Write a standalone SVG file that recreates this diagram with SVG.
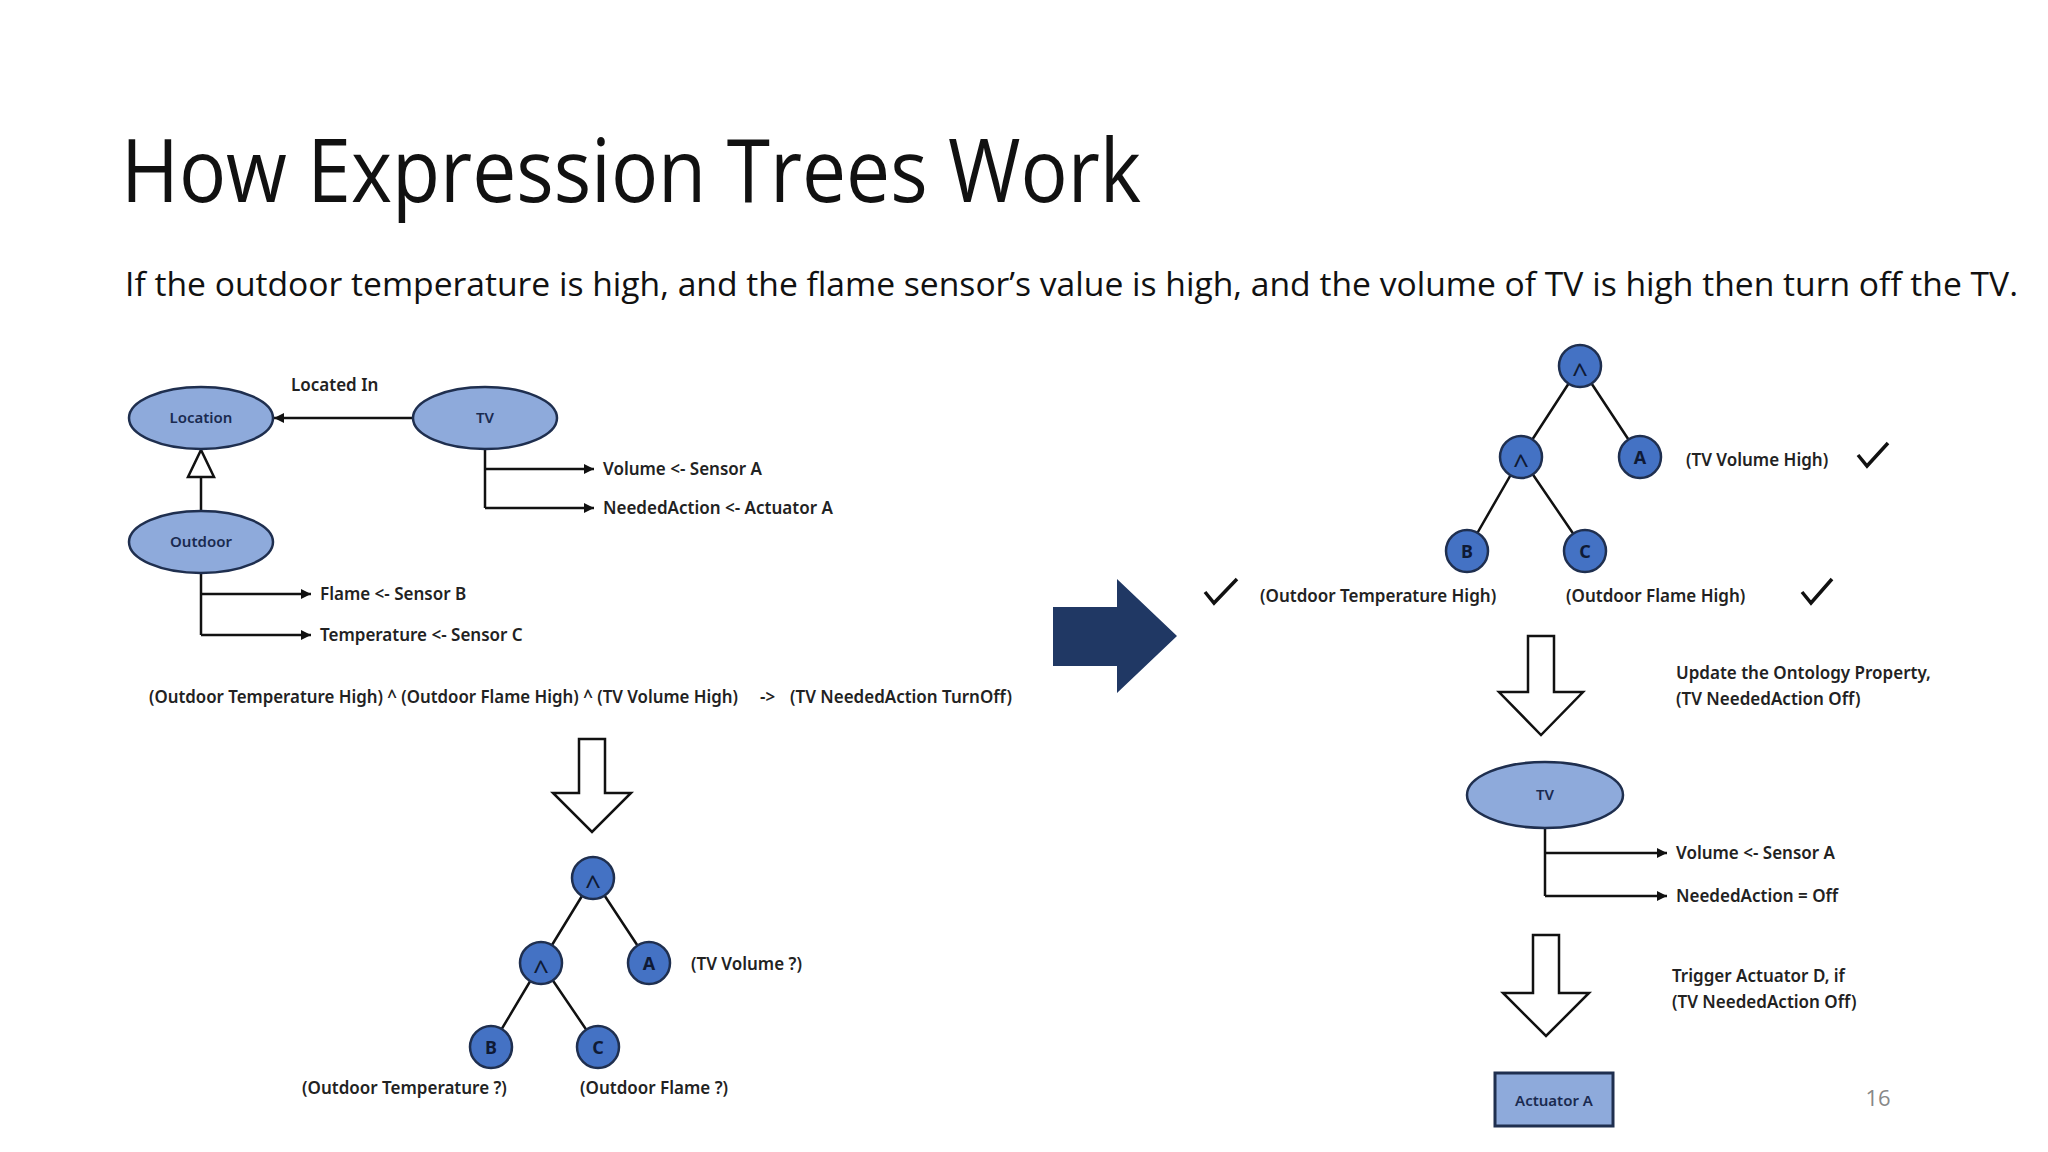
<svg xmlns="http://www.w3.org/2000/svg" width="2048" height="1152" viewBox="0 0 2048 1152">
<defs>
<marker id="ah" viewBox="0 0 10 10" refX="10" refY="5" markerWidth="4" markerHeight="4" orient="auto"><path d="M0,0L10,5L0,10z" fill="#111"/></marker>
<style>
.lbl{font-family:"Noto Sans","Liberation Sans",sans-serif;font-size:17px;font-weight:600;fill:#222}
.nd{font-family:"Noto Sans","Liberation Sans",sans-serif;font-size:15px;font-weight:600;fill:#1a2a50;text-anchor:middle}
.cl{font-family:"Noto Sans","Liberation Sans",sans-serif;font-size:18px;font-weight:700;fill:#0f1a35;text-anchor:middle}
.cx{font-family:"Noto Sans","Liberation Sans",sans-serif;font-size:28px;font-weight:400;fill:#0f1a35;text-anchor:middle}
.ell{fill:#8eaadb;stroke:#1f2f4f;stroke-width:2.5}
.cir{fill:#4472c4;stroke:#1f2f4f;stroke-width:2.5}
.ln{stroke:#111;stroke-width:2.5;fill:none}
.hol{fill:#fff;stroke:#111;stroke-width:2.5}
.chk{fill:none;stroke:#111;stroke-width:3.5}
</style>
</defs>
<rect width="2048" height="1152" fill="#fff"/>
<text x="121" y="202" font-family="Open Sans,Liberation Sans,sans-serif" font-size="88" fill="#111" textLength="1020" lengthAdjust="spacingAndGlyphs">How Expression Trees Work</text>
<text x="125" y="296" font-family="Open Sans,Liberation Sans,sans-serif" font-size="33" fill="#111" textLength="1893" lengthAdjust="spacingAndGlyphs">If the outdoor temperature is high, and the flame sensor’s value is high, and the volume of TV is high then turn off the TV.</text>

<g id="connectors">
<line class="ln" x1="413" y1="418" x2="274" y2="418" marker-end="url(#ah)"/>
<line class="ln" x1="201" y1="511" x2="201" y2="477"/>
<path class="hol" d="M188,477L214,477L201,450z"/>
<path class="ln" d="M485,449V508"/>
<line class="ln" x1="485" y1="469" x2="594" y2="469" marker-end="url(#ah)"/>
<line class="ln" x1="485" y1="508" x2="594" y2="508" marker-end="url(#ah)"/>
<path class="ln" d="M201,573V635"/>
<line class="ln" x1="201" y1="594" x2="311" y2="594" marker-end="url(#ah)"/>
<line class="ln" x1="201" y1="635" x2="311" y2="635" marker-end="url(#ah)"/>
<path class="hol" d="M579,739H605V793H631L592,832L553,793H579z"/>
<path class="ln" d="M593,878L541,963M593,878L649,963M541,963L491,1047M541,963L598,1047"/>
<path d="M1053,607H1117V579L1177,636L1117,693V666H1053z" fill="#203864"/>
<path class="ln" d="M1580,366L1521,457M1580,366L1640,457M1521,457L1467,551M1521,457L1585,551"/>
<path class="hol" d="M1528,636H1554V692H1583L1541,735L1499,692H1528z"/>
<path class="ln" d="M1545,828V896"/>
<line class="ln" x1="1545" y1="853" x2="1667" y2="853" marker-end="url(#ah)"/>
<line class="ln" x1="1545" y1="896" x2="1667" y2="896" marker-end="url(#ah)"/>
<path class="hol" d="M1533,935H1559V993H1589L1546,1036L1503,993H1533z"/>
</g>

<g id="location"><ellipse class="ell" cx="201" cy="418" rx="72" ry="31"/><text class="nd" x="201" y="423">Location</text></g>
<g id="tv"><ellipse class="ell" cx="485" cy="418" rx="72" ry="31"/><text class="nd" x="485" y="423">TV</text></g>
<g id="outdoor"><ellipse class="ell" cx="201" cy="542" rx="72" ry="31"/><text class="nd" x="201" y="547">Outdoor</text></g>
<text class="lbl" x="291" y="391">Located In</text>
<text class="lbl" x="603" y="475">Volume &lt;- Sensor A</text>
<text class="lbl" x="603" y="514">NeededAction &lt;- Actuator A</text>
<text class="lbl" x="320" y="600">Flame &lt;- Sensor B</text>
<text class="lbl" x="320" y="641">Temperature &lt;- Sensor C</text>
<text class="lbl" x="149" y="703" textLength="589" lengthAdjust="spacingAndGlyphs">(Outdoor Temperature High) ^ (Outdoor Flame High) ^ (TV Volume High)</text>
<text class="lbl" x="760" y="703">-&gt;</text>
<text class="lbl" x="790" y="703" textLength="222" lengthAdjust="spacingAndGlyphs">(TV NeededAction TurnOff)</text>

<g id="l-root"><circle class="cir" cx="593" cy="878" r="21"/><text class="cx" x="593" y="895">^</text></g>
<g id="l-and"><circle class="cir" cx="541" cy="963" r="21"/><text class="cx" x="541" y="980">^</text></g>
<g id="l-a"><circle class="cir" cx="649" cy="963" r="21"/><text class="cl" x="649" y="970">A</text></g>
<g id="l-b"><circle class="cir" cx="491" cy="1047" r="21"/><text class="cl" x="491" y="1054">B</text></g>
<g id="l-c"><circle class="cir" cx="598" cy="1047" r="21"/><text class="cl" x="598" y="1054">C</text></g>
<text class="lbl" x="691" y="970">(TV Volume ?)</text>
<text class="lbl" x="302" y="1094">(Outdoor Temperature ?)</text>
<text class="lbl" x="580" y="1094">(Outdoor Flame ?)</text>

<g id="r-root"><circle class="cir" cx="1580" cy="366" r="21"/><text class="cx" x="1580" y="383">^</text></g>
<g id="r-and"><circle class="cir" cx="1521" cy="457" r="21"/><text class="cx" x="1521" y="474">^</text></g>
<g id="r-a"><circle class="cir" cx="1640" cy="457" r="21"/><text class="cl" x="1640" y="464">A</text></g>
<g id="r-b"><circle class="cir" cx="1467" cy="551" r="21"/><text class="cl" x="1467" y="558">B</text></g>
<g id="r-c"><circle class="cir" cx="1585" cy="551" r="21"/><text class="cl" x="1585" y="558">C</text></g>
<text class="lbl" x="1686" y="466">(TV Volume High)</text>
<path class="chk" d="M1858,455L1867,466L1888,443"/>
<path class="chk" d="M1205,592L1214,603L1237,579"/>
<text class="lbl" x="1260" y="602">(Outdoor Temperature High)</text>
<text class="lbl" x="1566" y="602">(Outdoor Flame High)</text>
<path class="chk" d="M1802,592L1811,603L1832,579"/>
<text class="lbl" x="1676" y="679">Update the Ontology Property,</text>
<text class="lbl" x="1676" y="705">(TV NeededAction Off)</text>
<g id="tv2"><ellipse class="ell" cx="1545" cy="795" rx="78" ry="33"/><text class="nd" x="1545" y="800">TV</text></g>
<text class="lbl" x="1676" y="859">Volume &lt;- Sensor A</text>
<text class="lbl" x="1676" y="902">NeededAction = Off</text>
<text class="lbl" x="1672" y="982">Trigger Actuator D, if</text>
<text class="lbl" x="1672" y="1008">(TV NeededAction Off)</text>
<g id="actuator"><rect x="1495" y="1073" width="118" height="53" fill="#8eaadb" stroke="#1f2f4f" stroke-width="3"/><text class="nd" x="1554" y="1106" font-size="17" font-weight="500">Actuator A</text></g>
<text x="1878" y="1106" font-family="Open Sans,Liberation Sans,sans-serif" font-size="22" fill="#888" text-anchor="middle">16</text>
</svg>
